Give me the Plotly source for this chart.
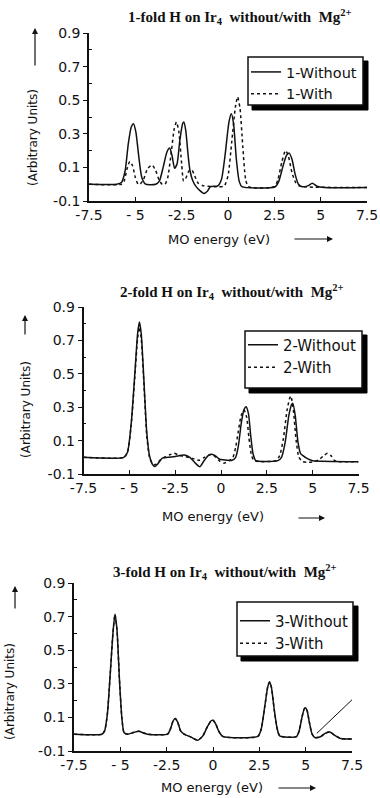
import plotly.graph_objects as go

# ---------------- data ----------------
energy_tick_vals = [-7.5, -5, -2.5, 0, 2.5, 5, 7.5]
energy_tick_text = ["-7.5", "- 5", "-2.5", "0", "2.5", "5", "7.5"]
intensity_tick_vals = [-0.1, 0.1, 0.3, 0.5, 0.7, 0.9]
intensity_tick_text = ["-0.1", "0.1", "0.3", "0.5", "0.7", "0.9"]
intensity_minor_vals = [0.0, 0.2, 0.4, 0.6, 0.8]

panel_titles = [
    "1-fold H on Ir<sub>4</sub>  without/with  Mg<sup>2+</sup>",
    "2-fold H on Ir<sub>4</sub>  without/with  Mg<sup>2+</sup>",
    "3-fold H on Ir<sub>4</sub>  without/with  Mg<sup>2+</sup>",
]
series_names = [("1-Without", "1-With"), ("2-Without", "2-With"), ("3-Without", "3-With")]

# Panel 1
p1_without_x = [-7.5, -6.0, -5.75, -5.55, -5.38, -5.22, -5.1, -4.97, -4.82, -4.65, -4.45, -3.9, -3.7, -3.5, -3.3,
                -3.15, -3.02, -2.88, -2.75, -2.6, -2.45, -2.38, -2.28, -2.15, -2.05, -1.9, -1.75, -1.5, -1.3, -1.1,
                -0.95, -0.55, -0.35, -0.15, 0.05, 0.18, 0.3, 0.45, 0.6, 0.75, 2.55, 2.75, 2.95, 3.15, 3.3, 3.45,
                3.62, 3.8, 4.0, 4.3, 4.55, 4.8, 5.2, 7.5]
p1_without_y = [0.0, 0.0, 0.01, 0.08, 0.24, 0.34, 0.36, 0.31, 0.17, 0.04, 0.0, 0.0, 0.02, 0.10, 0.19,
                0.215, 0.17, 0.095, 0.12, 0.26, 0.36, 0.37, 0.32, 0.17, 0.08, 0.02, -0.01, -0.04, -0.055, -0.04,
                -0.015, -0.01, 0.03, 0.18, 0.37, 0.42, 0.36, 0.15, 0.02, -0.015, -0.015, 0.02, 0.10, 0.17, 0.185, 0.15,
                0.06, 0.0, -0.015, -0.01, 0.005, -0.012, -0.02, -0.02]
p1_with_x = [-7.5, -5.75, -5.6, -5.45, -5.3, -5.15, -5.0, -4.85, -4.75, -4.55, -4.35, -4.1, -3.9, -3.7, -3.55,
             -3.4, -3.25, -3.05, -2.9, -2.78, -2.65, -2.5, -2.4, -2.3, -2.1, -1.95, -1.8, -1.6, -1.3, -0.5, -0.2,
             0.0, 0.2, 0.4, 0.52, 0.65, 0.8, 0.95, 1.1, 2.5, 2.7, 2.9, 3.1, 3.25, 3.45, 3.65, 3.85, 4.0, 7.5]
p1_with_y = [0.0, 0.0, 0.02, 0.09, 0.135, 0.11, 0.04, 0.0, 0.0, 0.03, 0.09, 0.115, 0.08, 0.02, 0.0,
             0.0, 0.04, 0.2, 0.33, 0.37, 0.31, 0.12, 0.02, 0.03, 0.08, 0.085, 0.05, 0.005, -0.01, -0.015, -0.01,
             0.05, 0.25, 0.46, 0.52, 0.45, 0.22, 0.03, -0.015, -0.015, 0.03, 0.13, 0.2, 0.17, 0.07, 0.01, -0.01,
             -0.015, -0.02]

# Panel 2
p2_without_x = [-7.5, -5.3, -5.1, -4.9, -4.7, -4.55, -4.45, -4.35, -4.2, -4.05, -3.9, -3.75, -3.6, -3.45, -3.2,
                -2.9, -2.5, -2.0, -1.7, -1.4, -1.15, -0.95, -0.7, -0.5, -0.3, -0.1, 0.1, 0.6, 0.8, 0.95, 1.1,
                1.25, 1.37, 1.5, 1.62, 1.75, 1.9, 3.1, 3.3, 3.5, 3.7, 3.85, 3.92, 4.05, 4.2, 4.35, 4.6, 4.85,
                5.0, 7.5]
p2_without_y = [0.0, 0.0, 0.03, 0.2, 0.5, 0.74, 0.81, 0.74, 0.45, 0.15, 0.01, -0.04, -0.055, -0.04, -0.005,
                0.0, 0.005, 0.014, 0.0, -0.035, -0.056, -0.025, 0.01, 0.018, 0.008, -0.01, -0.015, -0.018, 0.0,
                0.07, 0.2, 0.285, 0.303, 0.26, 0.13, 0.02, -0.02, -0.02, 0.0, 0.09, 0.25, 0.315, 0.323, 0.25,
                0.09, 0.02, 0.0, -0.015, -0.02, -0.026]
p2_with_x = [-7.5, -5.3, -5.1, -4.9, -4.7, -4.55, -4.45, -4.35, -4.2, -4.05, -3.9, -3.75, -3.6, -3.4, -3.1,
             -2.8, -2.55, -2.3, -2.0, -1.6, -1.2, -0.9, -0.6, -0.4, -0.1, 0.15, 0.45, 0.65, 0.8, 0.95, 1.1,
             1.26, 1.4, 1.52, 1.65, 1.8, 3.0, 3.2, 3.4, 3.6, 3.75, 3.81, 3.95, 4.1, 4.25, 4.45, 4.7, 5.1,
             5.4, 5.6, 5.81, 6.0, 6.2, 6.4, 7.5]
p2_with_y = [0.0, 0.0, 0.03, 0.19, 0.48, 0.71, 0.78, 0.71, 0.43, 0.13, 0.0, -0.035, -0.045, -0.025, 0.0,
             0.015, 0.024, 0.012, 0.005, -0.005, -0.018, 0.0, 0.015, 0.012, -0.02, -0.035, -0.02, 0.0, 0.06,
             0.16, 0.25, 0.283, 0.24, 0.12, 0.02, -0.02, -0.02, 0.01, 0.11, 0.28, 0.355, 0.367, 0.28, 0.1,
             0.0, -0.025, -0.03, -0.025, -0.01, 0.01, 0.024, 0.01, -0.02, -0.026, -0.026]

# Panel 3 (the "With" curve lies under the "Without" curve)
p3_without_x = [-7.5, -6.0, -5.85, -5.7, -5.55, -5.4, -5.29, -5.18, -5.05, -4.92, -4.8, -4.6, -4.3, -4.0, -3.8,
                -3.54, -2.45, -2.3, -2.15, -2.04, -1.9, -1.75, -1.56, -1.19, -0.83, -0.55, -0.3, -0.1, 0.0,
                0.15, 0.3, 0.52, 2.42, 2.6, 2.8, 2.95, 3.05, 3.15, 3.3, 3.45, 3.6, 4.5, 4.65, 4.8, 4.92, 4.99,
                5.08, 5.2, 5.35, 5.5, 5.8, 6.05, 6.3, 6.55, 6.9, 7.5]
p3_without_y = [0.0, 0.0, 0.02, 0.12, 0.35, 0.6, 0.714, 0.62, 0.33, 0.1, 0.01, 0.0, 0.01, 0.017, 0.01,
                0.0, 0.0, 0.03, 0.08, 0.093, 0.07, 0.02, 0.0, -0.017, -0.036, -0.01, 0.045, 0.08, 0.083,
                0.06, 0.02, -0.013, -0.013, 0.03, 0.17, 0.28, 0.311, 0.28, 0.15, 0.04, -0.01, -0.015, 0.02,
                0.1, 0.15, 0.158, 0.14, 0.07, 0.0, -0.02, -0.015, 0.005, 0.013, -0.005, -0.026, -0.028]
p3_with_x = p3_without_x
p3_with_y = p3_without_y
# stray pen stroke visible in panel 3
p3_stroke_x = [5.6, 7.7]
p3_stroke_y = [0.005, 0.226]

panels = [
    (p1_without_x, p1_without_y, p1_with_x, p1_with_y),
    (p2_without_x, p2_without_y, p2_with_x, p2_with_y),
    (p3_without_x, p3_without_y, p3_with_x, p3_with_y),
]

# ---------------- layout helpers (pixel -> paper) ----------------
W, H = 380, 798
def px(x):
    return x / W
def py(y):
    return 1 - y / H

# plot rectangles in pixels: (left, right, top(0.9), bottom(-0.1))
rects = [(89, 367, 33, 201), (83.5, 358.5, 307, 474), (74, 352, 583, 751)]
# legend entries: left, top, font size
legend_pos = [(246, 56, 14.5), (243, 328.4, 15), (235, 604.5, 15)]
# legend frame (with drop shadow): x0, y0, x1, y1
legend_frame = [(248, 57, 363, 105), (245, 331, 362, 388), (237, 602, 353, 656)]
SHADOW = 4
title_pos = [(240, 17), (232, 292), (225, 572)]
xtitle_pos = [(219, 239), (213, 516), (212, 787)]
xarrow = [(293, 333, 239), (297, 325, 518), (277, 316, 788)]
ytitle_pos = [(33, 138), (26, 410), (10, 692)]
yarrow = [(35, 28, 67), (25, 315, 336), (15, 586, 610)]

INK = "#111111"
fig = go.Figure()

for i, (wx, wy, dx, dy) in enumerate(panels):
    n = i + 1
    xa = "x" if n == 1 else f"x{n}"
    ya = "y" if n == 1 else f"y{n}"
    leg = "legend" if n == 1 else f"legend{n}"
    fig.add_trace(go.Scatter(x=dx, y=dy, mode="lines", name=series_names[i][1],
                             line=dict(color=INK, width=1.5, dash="dot", shape="spline", smoothing=0.6),
                             xaxis=xa, yaxis=ya, legend=leg, legendrank=2))
    fig.add_trace(go.Scatter(x=wx, y=wy, mode="lines", name=series_names[i][0],
                             line=dict(color=INK, width=1.5, shape="spline", smoothing=0.6),
                             xaxis=xa, yaxis=ya, legend=leg, legendrank=1))

fig.add_trace(go.Scatter(x=p3_stroke_x, y=p3_stroke_y, mode="lines", showlegend=False,
                         line=dict(color=INK, width=1), xaxis="x3", yaxis="y3", hoverinfo="skip"))

layout = dict(template="none", width=W, height=H,
              margin=dict(l=0, r=0, t=0, b=0, pad=0, autoexpand=False),
              paper_bgcolor="white", plot_bgcolor="white", showlegend=True)

shapes = []
annotations = []
for i in range(3):
    n = i + 1
    l, r, t, b = rects[i]
    xk = "xaxis" if n == 1 else f"xaxis{n}"
    yk = "yaxis" if n == 1 else f"yaxis{n}"
    ya = "y" if n == 1 else f"y{n}"
    xa = "x" if n == 1 else f"x{n}"
    layout[xk] = dict(domain=[px(l), px(r)], anchor=ya, range=[-7.5, 7.5], automargin=False,
                      tickvals=energy_tick_vals, ticktext=energy_tick_text,
                      ticks="inside", ticklen=4, tickwidth=1.2, tickcolor=INK,
                      showline=True, linecolor=INK, linewidth=1.5, showgrid=False, zeroline=False,
                      tickfont=dict(family="DejaVu Sans", size=14, color=INK), fixedrange=True)
    layout[yk] = dict(domain=[py(b), py(t)], anchor=xa, range=[-0.1, 0.9], automargin=False,
                      tickvals=intensity_tick_vals, ticktext=intensity_tick_text,
                      ticks="outside", ticklen=4, tickwidth=1.2, tickcolor=INK,
                      minor=dict(tickvals=intensity_minor_vals, ticks="inside", ticklen=3, tickwidth=1, tickcolor=INK),
                      showline=True, linecolor=INK, linewidth=1.5, showgrid=False, zeroline=False,
                      tickfont=dict(family="DejaVu Sans", size=14, color=INK), fixedrange=True)
    lk = "legend" if n == 1 else f"legend{n}"
    lx, ly, lf = legend_pos[i]
    layout[lk] = dict(x=px(lx), y=py(ly), xanchor="left", yanchor="top",
                      bgcolor="rgba(0,0,0,0)", borderwidth=0,
                      font=dict(family="DejaVu Sans", size=lf, color=INK),
                      itemwidth=30, tracegroupgap=0, traceorder="normal")
    fx0, fy0, fx1, fy1 = legend_frame[i]
    # drop shadow (full offset rectangle), then the white frame on top of it
    shapes.append(dict(type="rect", xref="paper", yref="paper",
                       x0=px(fx0 + SHADOW), x1=px(fx1 + SHADOW + 1), y0=py(fy1 + SHADOW + 1), y1=py(fy0 + SHADOW),
                       fillcolor="black", line=dict(color="black", width=1), layer="above"))
    shapes.append(dict(type="rect", xref="paper", yref="paper",
                       x0=px(fx0), x1=px(fx1), y0=py(fy1), y1=py(fy0),
                       fillcolor="white", line=dict(color=INK, width=1.5), layer="above"))
    tx, ty = title_pos[i]
    annotations.append(dict(x=px(tx), y=py(ty), xref="paper", yref="paper", showarrow=False,
                            xanchor="center", yanchor="middle", text=panel_titles[i],
                            font=dict(family="Liberation Serif", size=15, color=INK, weight="bold")))
    xx, xy = xtitle_pos[i]
    annotations.append(dict(x=px(xx), y=py(xy), xref="paper", yref="paper", showarrow=False,
                            xanchor="center", yanchor="middle",
                            text="MO energy (eV)", font=dict(family="DejaVu Sans", size=13, color=INK)))
    a0, a1, ay_ = xarrow[i]
    annotations.append(dict(x=px(a1), y=py(ay_), xref="paper", yref="paper", text="",
                            xanchor="center", yanchor="middle",
                            showarrow=True, ax=-(a1 - a0), ay=0, arrowhead=2, arrowsize=1,
                            arrowwidth=1.2, arrowcolor=INK))
    yx, yy = ytitle_pos[i]
    annotations.append(dict(x=px(yx), y=py(yy), xref="paper", yref="paper", showarrow=False,
                            xanchor="center", yanchor="middle",
                            text="(Arbitrary Units)", textangle=-90,
                            font=dict(family="DejaVu Sans", size=12, color=INK)))
    ux, uh, ut = yarrow[i]
    annotations.append(dict(x=px(ux), y=py(uh), xref="paper", yref="paper", text="",
                            xanchor="center", yanchor="middle",
                            showarrow=True, ax=0, ay=(ut - uh), arrowhead=2, arrowsize=1,
                            arrowwidth=1.2, arrowcolor=INK))

layout["shapes"] = shapes
layout["annotations"] = annotations
fig.update_layout(**layout)

fig.write_html("out.html", config={"displayModeBar": False},
               post_script="document.body.style.margin='0px';")
